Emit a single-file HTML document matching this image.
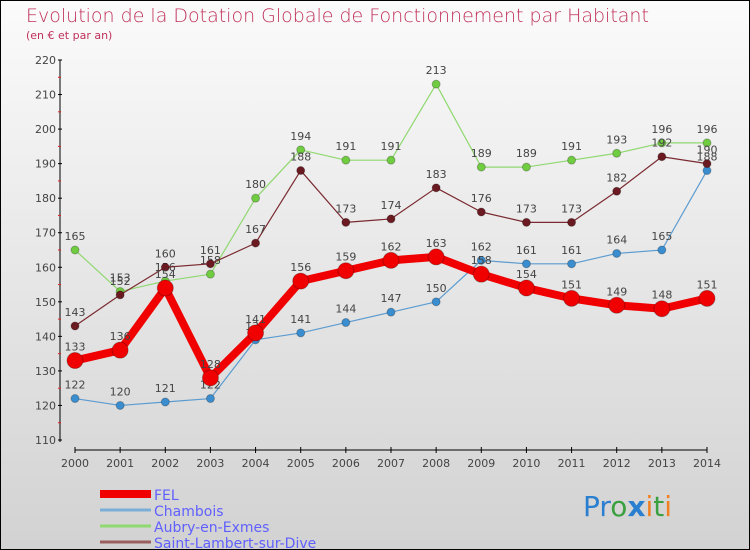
<!DOCTYPE html>
<html><head><meta charset="utf-8"><style>
body{margin:0;width:750px;height:550px;overflow:hidden}
svg{display:block;font-family:"DejaVu Sans","Liberation Sans",sans-serif}
</style></head><body>
<svg id="c" width="750" height="550">
<defs><linearGradient id="bg" x1="0" y1="0" x2="0" y2="1"><stop offset="0" stop-color="#fbfbfb"/><stop offset="1" stop-color="#d2d2d2"/></linearGradient></defs>
<rect x="0.5" y="0.5" width="749" height="549" fill="url(#bg)" stroke="#000"/>
<text x="26" y="22" font-size="19" fill="#c0305a" font-weight="200">Evolution de la Dotation Globale de Fonctionnement par Habitant</text>
<text x="26" y="39" font-size="11" fill="#c0305a">(en € et par an)</text>
<g id="axes"></g><g id="series"></g><g id="legend"></g>
<text x="583" y="516" font-size="28" font-family="'DejaVu Sans',sans-serif"><tspan fill="#2a7fd0">Pr</tspan><tspan fill="#3aa040">o</tspan><tspan fill="#2a7fd0" font-weight="bold">x</tspan><tspan fill="#f08020">i</tspan><tspan fill="#3aa040">t</tspan><tspan fill="#f08020">i</tspan></text>
</svg>
<script>
const years=[2000,2001,2002,2003,2004,2005,2006,2007,2008,2009,2010,2011,2012,2013,2014];
const yTicks=[110,120,130,140,150,160,170,180,190,200,210,220];
const felValues=[133,136,154,128,141,156,159,162,163,158,154,151,149,148,151];
const chamboisValues=[122,120,121,122,139,141,144,147,150,162,161,161,164,165,188];
const aubryValues=[165,153,156,158,180,194,191,191,213,189,189,191,193,196,196];
const stLambertValues=[143,152,160,161,167,188,173,174,183,176,173,173,182,192,190];
const seriesNames=["FEL","Chambois","Aubry-en-Exmes","Saint-Lambert-sur-Dive"];
const NS="http://www.w3.org/2000/svg";
const X=i=>75+i*(707-75)/(years.length-1);
const Y=v=>440-(v-110)*(380/110);
function mk(t,a,p){const e=document.createElementNS(NS,t);for(const k in a)e.setAttribute(k,a[k]);p.appendChild(e);return e;}
const ax=document.getElementById('axes');
let l=mk('line',{x1:60,y1:Y(220),x2:60,y2:Y(110)+2,stroke:'#000','stroke-width':1},ax);

l=mk('line',{x1:75,y1:450,x2:707,y2:450,stroke:'#000','stroke-width':1},ax);

yTicks.forEach((v,i)=>{
  mk('line',{x1:58,x2:62,y1:Y(v),y2:Y(v),stroke:'#000'},ax);
  if(i<yTicks.length-1) mk('line',{x1:58,x2:61,y1:Y(v+5),y2:Y(v+5),stroke:'#e02020'},ax);
  const t=mk('text',{x:56,y:Y(v)+4,'text-anchor':'end','font-size':11,fill:'#444'},ax);t.textContent=v;
  
});
years.forEach((y,i)=>{
  mk('line',{x1:X(i),x2:X(i),y1:447,y2:453,stroke:'#000'},ax);
  const t=mk('text',{x:X(i),y:467,'text-anchor':'middle','font-size':11,fill:'#444'},ax);t.textContent=y;
  
});
const sg=document.getElementById('series');
function draw(vals,color,dot,w,r,name){
  const g=mk('g',{},sg);
  
  const p=mk('polyline',{points:vals.map((v,i)=>X(i)+','+Y(v)).join(' '),fill:'none',stroke:color,'stroke-width':w,'stroke-linejoin':'round'},g);
  
  vals.forEach((v,i)=>{
    const c=mk('circle',{cx:X(i),cy:Y(v),r:r,fill:dot,stroke:'rgba(0,0,0,0.25)','stroke-width':1},g);
    
    const t=mk('text',{x:X(i),y:Y(v)-10,'text-anchor':'middle','font-size':11,fill:'#444'},g);t.textContent=v;
    
  });
}
draw(chamboisValues,'#5b9bd0','#3a8ed0',1.2,4,'chambois');
draw(aubryValues,'#90d870','#70cc40',1.2,4,'aubry');
draw(stLambertValues,'#7a2a30','#6a1a20',1.2,4,'saint-lambert');
draw(felValues,'#f00000','#f00000',8,8,'fel');
const lg=document.getElementById('legend');
const lc=['#f00000','#7aaed8','#90d870','#9a6060'],lw=[8,3,3,3];
seriesNames.forEach((n,i)=>{
  const y=524-(3-i)*0+i*16-0;
  const yy=524+i*16-0-30;
  const s=mk('line',{x1:100,x2:151,y1:yy,y2:yy,stroke:lc[i],'stroke-width':lw[i]},lg);
  
  const t=mk('text',{x:154,y:yy+6,'font-size':14,fill:'#6060ff'},lg);t.textContent=n;
  
});
</script>
</body></html>
